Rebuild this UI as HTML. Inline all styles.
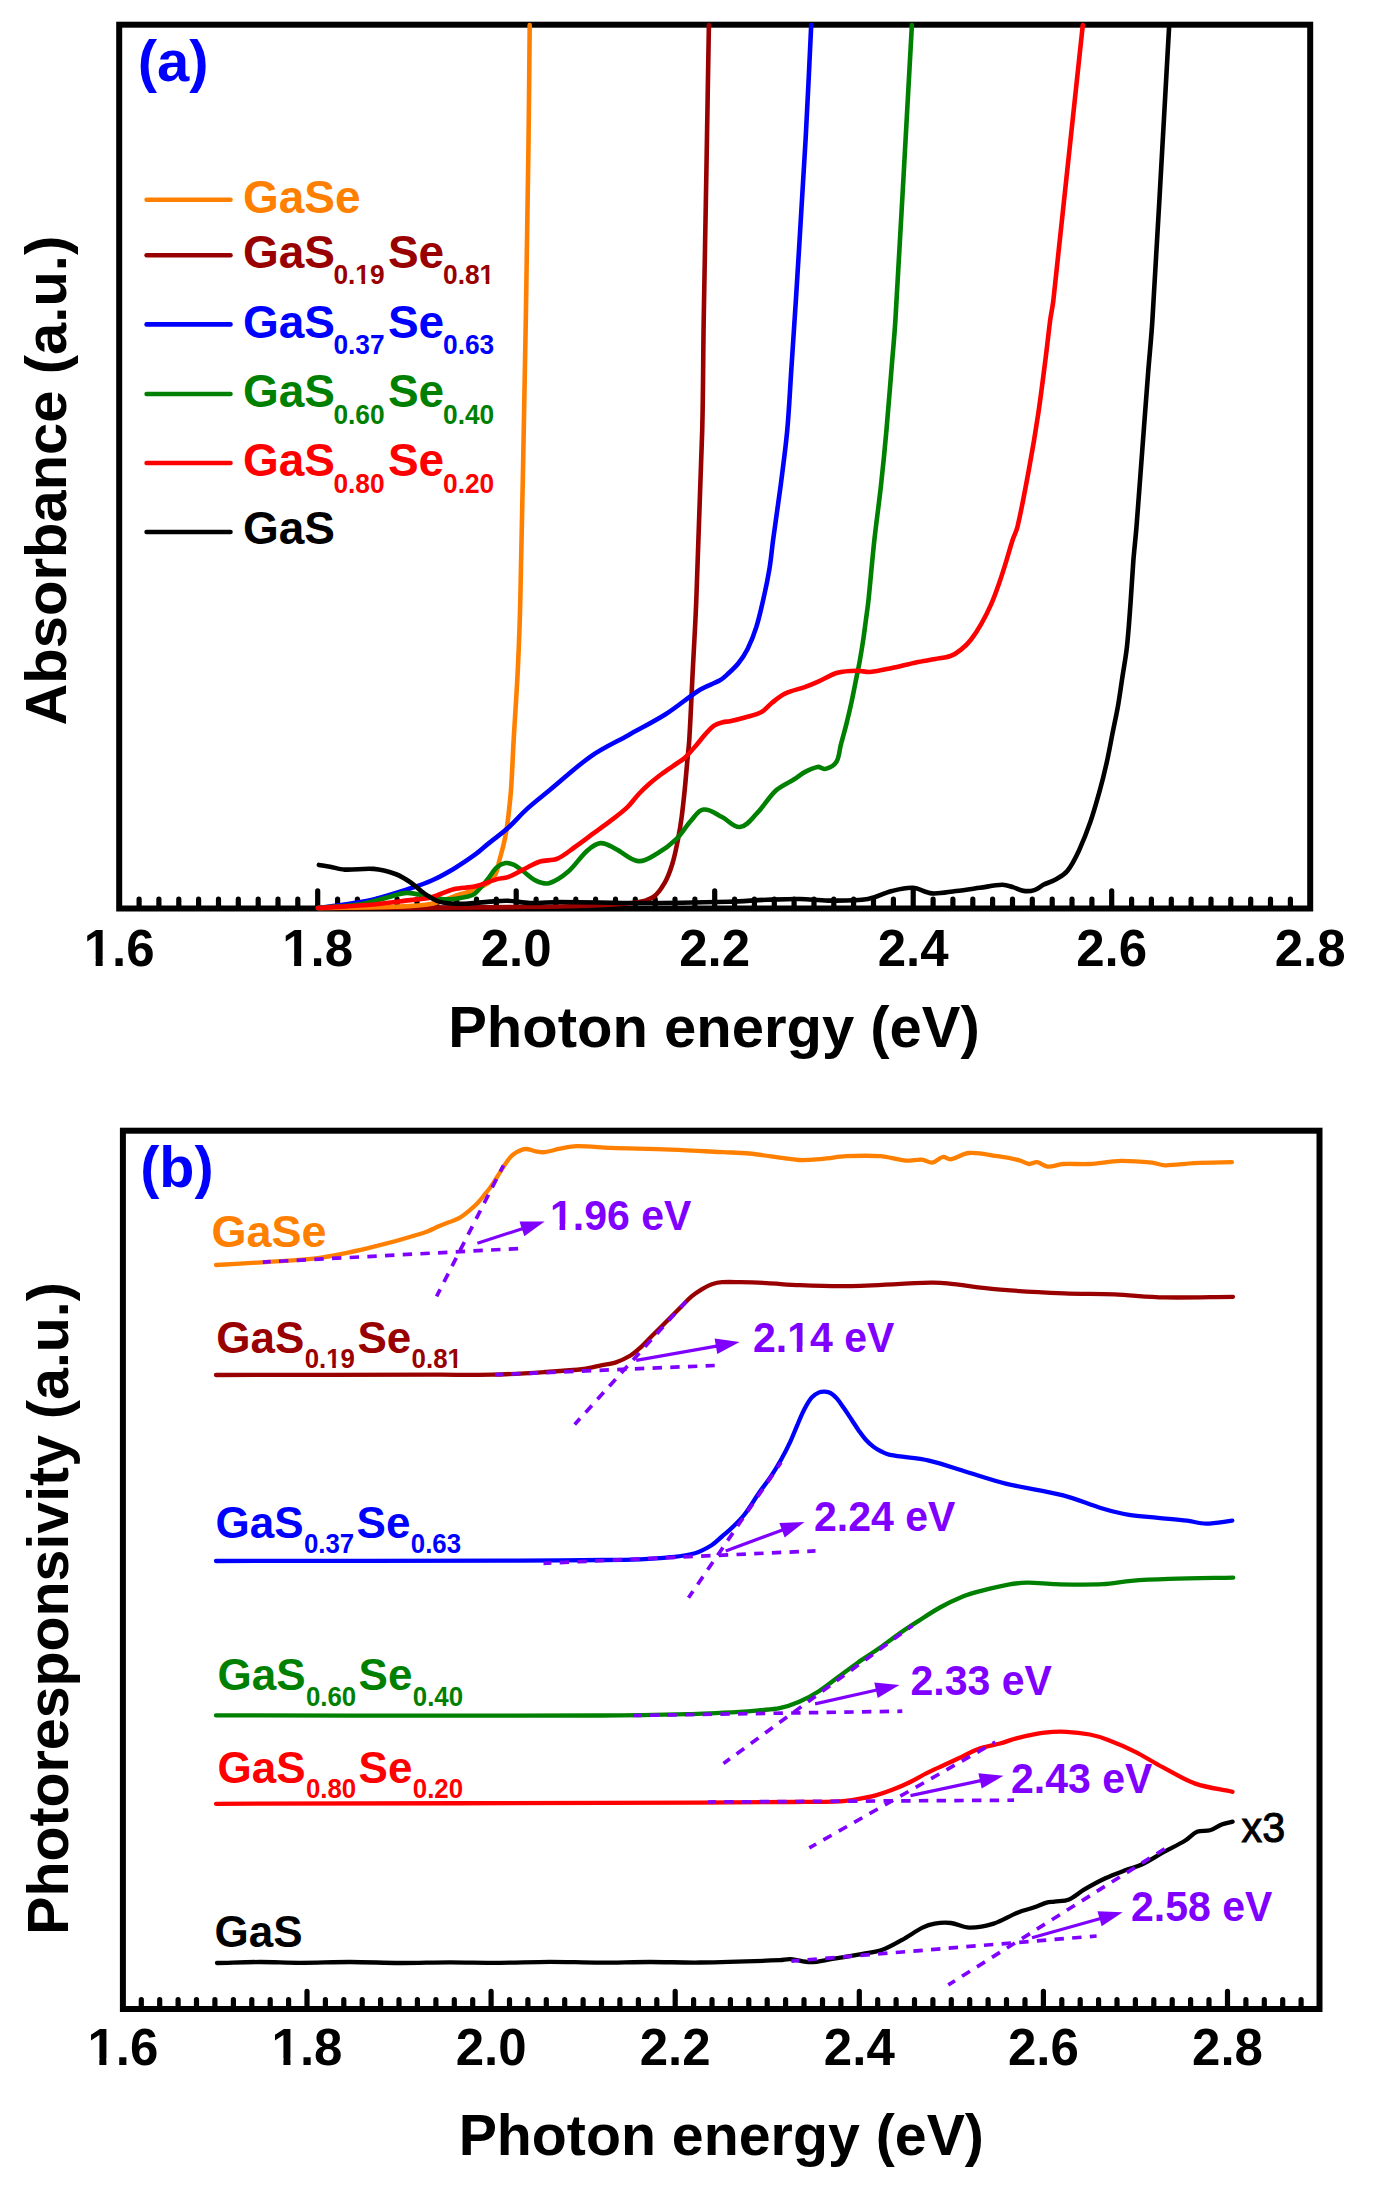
<!DOCTYPE html>
<html><head><meta charset="utf-8"><style>
html,body{margin:0;padding:0;background:#fff;}
svg{display:block;}
text{font-family:"Liberation Sans", sans-serif;font-weight:bold;}
</style></head><body>
<svg width="1376" height="2203" viewBox="0 0 1376 2203">
<rect width="1376" height="2203" fill="#fff"/>
<rect x="119.2" y="24.7" width="1191.0" height="883.8" fill="none" stroke="#000" stroke-width="6"/>
<path d="M139.1 908.5V899.2M158.9 908.5V899.2M178.8 908.5V899.2M198.6 908.5V899.2M218.5 908.5V899.2M238.3 908.5V899.2M258.2 908.5V899.2M278.0 908.5V899.2M297.8 908.5V899.2M317.7 908.5V890.9M337.6 908.5V899.2M357.4 908.5V899.2M377.3 908.5V899.2M397.1 908.5V899.2M417.0 908.5V899.2M436.8 908.5V899.2M456.7 908.5V899.2M476.5 908.5V899.2M496.3 908.5V899.2M516.2 908.5V890.9M536.1 908.5V899.2M555.9 908.5V899.2M575.8 908.5V899.2M595.6 908.5V899.2M615.5 908.5V899.2M635.3 908.5V899.2M655.2 908.5V899.2M675.0 908.5V899.2M694.9 908.5V899.2M714.7 908.5V890.9M734.6 908.5V899.2M754.4 908.5V899.2M774.3 908.5V899.2M794.1 908.5V899.2M814.0 908.5V899.2M833.8 908.5V899.2M853.6 908.5V899.2M873.5 908.5V899.2M893.4 908.5V899.2M913.2 908.5V890.9M933.1 908.5V899.2M952.9 908.5V899.2M972.8 908.5V899.2M992.6 908.5V899.2M1012.5 908.5V899.2M1032.3 908.5V899.2M1052.2 908.5V899.2M1072.0 908.5V899.2M1091.9 908.5V899.2M1111.7 908.5V890.9M1131.6 908.5V899.2M1151.4 908.5V899.2M1171.3 908.5V899.2M1191.1 908.5V899.2M1211.0 908.5V899.2M1230.8 908.5V899.2M1250.7 908.5V899.2M1270.5 908.5V899.2M1290.4 908.5V899.2" stroke="#000" stroke-width="5.2" stroke-linecap="round" fill="none"/>
<path d="M318.0 908.0C398.3 907.5 478.6 907.8 558.9 906.5C584.1 906.1 609.4 905.2 634.5 902.7C641.0 902.0 647.9 900.6 653.4 897.0C658.5 893.7 661.7 888.0 664.7 882.8C668.1 876.9 670.3 870.5 672.3 864.0C674.8 856.0 676.4 847.7 678.0 839.4C679.5 831.9 680.7 824.3 681.7 816.7C682.9 807.8 683.8 798.9 684.7 790.0C685.7 780.0 686.5 770.0 687.4 760.0C688.0 753.2 688.9 746.4 689.3 739.5C690.7 716.3 691.6 693.0 692.8 669.8C694.0 646.5 695.4 623.3 696.3 600.0C698.5 543.6 700.7 487.2 702.2 430.8C703.2 393.9 703.1 356.9 703.7 320.0C704.5 272.3 705.5 224.7 706.3 177.0C707.2 126.3 708.0 75.7 708.9 25.0" fill="none" stroke="#990000" stroke-width="4.6" stroke-linejoin="round" stroke-linecap="round"/>
<path d="M318.0 908.0C343.8 907.6 369.6 907.7 395.4 906.7C407.5 906.3 419.8 906.1 431.7 903.8C441.7 901.8 451.1 897.1 460.8 894.0C463.8 893.0 467.0 892.6 470.0 891.5C474.6 889.8 479.2 888.0 483.6 885.8C486.1 884.5 488.5 883.0 490.5 881.0C492.6 878.9 494.6 876.4 495.8 873.6C497.7 869.3 498.3 864.5 499.5 860.0C500.8 855.0 502.3 850.0 503.5 845.0C504.7 840.0 505.7 835.0 506.5 830.0C507.3 825.0 507.9 820.0 508.5 815.0C509.4 806.7 510.4 798.4 511.0 790.0C512.2 773.2 512.7 756.3 513.7 739.5C515.0 716.3 516.7 693.0 517.8 669.8C518.9 646.5 519.8 623.3 520.3 600.0C522.4 506.7 524.1 413.3 525.8 320.0C526.8 263.6 527.7 207.2 528.4 150.8C529.0 108.9 529.3 66.9 529.7 25.0" fill="none" stroke="#FF8000" stroke-width="4.6" stroke-linejoin="round" stroke-linecap="round"/>
<path d="M318.0 908.0C326.8 906.8 335.7 905.9 344.5 904.5C354.2 903.0 364.0 901.7 373.6 899.4C385.9 896.4 398.0 892.4 410.0 888.5C417.3 886.1 424.7 883.7 431.7 880.5C439.2 877.1 446.4 873.1 453.5 868.9C461.0 864.4 468.2 859.5 475.3 854.4C480.1 850.9 484.4 846.8 489.0 843.1C495.3 838.0 501.9 833.4 507.9 828.0C514.5 822.0 520.2 815.1 526.8 809.1C534.2 802.4 542.1 796.3 549.8 790.0C563.7 778.6 576.8 766.1 591.6 755.8C603.3 747.7 616.4 741.9 628.8 734.9C641.2 727.9 654.0 721.6 666.0 714.0C677.8 706.5 688.2 697.1 700.0 689.7C706.2 685.8 713.6 683.9 720.0 680.3C722.7 678.8 725.0 676.5 727.3 674.4C731.1 670.9 735.0 667.5 738.2 663.5C741.8 659.0 745.0 654.2 747.6 649.0C751.1 642.0 754.0 634.7 756.3 627.2C759.3 617.7 761.4 607.9 763.6 598.1C765.8 588.5 767.8 578.8 769.4 569.1C771.0 559.5 771.8 549.7 773.1 540.0C775.6 521.8 778.3 503.6 780.7 485.3C783.0 467.2 785.5 449.0 787.2 430.8C789.2 409.0 790.1 387.2 791.6 365.4C793.0 343.6 794.5 321.8 795.9 300.0C799.2 245.9 802.7 191.8 805.7 137.7C807.8 100.1 809.4 62.6 811.2 25.0" fill="none" stroke="#0000FF" stroke-width="4.6" stroke-linejoin="round" stroke-linecap="round"/>
<path d="M318.0 908.0C331.7 906.8 345.4 906.2 359.0 904.5C364.6 903.8 370.1 902.2 375.6 900.8C379.8 899.7 383.9 898.3 388.1 897.2C394.4 895.6 400.5 893.1 407.0 892.9C412.9 892.7 418.7 894.8 424.5 895.8C431.8 897.0 438.9 899.3 446.3 899.4C453.6 899.5 460.9 898.0 468.1 896.5C470.5 896.0 473.1 895.2 474.9 893.6C479.8 889.2 483.8 883.9 488.0 878.8C491.0 875.2 493.2 870.7 496.7 867.5C499.1 865.3 502.2 863.6 505.4 863.1C508.3 862.7 511.4 863.7 514.1 864.9C517.3 866.4 519.9 868.9 522.8 871.0C527.2 874.2 531.0 878.3 535.9 880.6C539.9 882.5 544.7 884.4 549.0 883.2C556.2 881.2 562.6 876.4 568.3 871.5C575.4 865.4 580.2 856.9 587.2 850.7C591.0 847.3 595.4 843.4 600.5 843.1C605.9 842.7 610.7 846.5 615.6 848.8C623.4 852.5 629.7 860.1 638.3 861.1C645.0 861.9 651.3 856.9 657.2 853.5C664.0 849.6 670.4 844.9 676.0 839.4C681.8 833.8 685.7 826.5 691.2 820.5C694.9 816.5 698.0 810.1 703.5 809.5C710.1 808.7 716.0 814.1 722.0 817.0C728.2 820.0 733.2 827.8 740.0 827.0C747.4 826.1 752.1 818.2 757.3 812.9C764.2 805.9 768.9 796.8 776.2 790.2C781.4 785.5 788.3 783.1 794.2 779.3C797.8 777.0 800.9 774.1 804.7 772.1C808.8 769.9 813.1 767.6 817.7 766.9C820.4 766.5 823.0 769.6 825.6 768.9C829.7 767.8 834.0 765.7 836.3 762.1C839.4 757.3 839.2 751.0 840.7 745.4C842.6 738.1 844.7 730.9 846.5 723.6C848.3 716.4 850.0 709.1 851.6 701.8C853.4 693.3 855.0 684.8 856.7 676.3C857.7 671.5 858.7 666.7 859.6 661.8C860.9 654.6 862.1 647.3 863.2 640.0C864.2 633.3 865.0 626.7 865.9 620.0C866.8 613.3 867.8 606.7 868.5 600.0C870.6 579.9 872.2 559.8 874.4 539.8C876.4 521.6 879.0 503.5 881.0 485.3C883.0 467.2 884.8 449.0 886.4 430.8C888.4 409.0 890.0 387.2 891.8 365.4C893.0 350.3 894.5 335.2 895.4 320.0C901.2 221.7 906.4 123.3 911.9 25.0" fill="none" stroke="#008000" stroke-width="4.6" stroke-linejoin="round" stroke-linecap="round"/>
<path d="M318.0 908.0C336.5 906.8 355.1 906.1 373.6 904.5C385.8 903.5 397.9 901.6 410.0 900.1C417.2 899.2 424.6 899.0 431.7 897.2C439.2 895.3 446.0 891.1 453.5 889.2C460.6 887.4 468.2 888.0 475.3 886.3C482.8 884.6 489.8 881.2 497.2 879.1C500.7 878.1 504.5 878.5 507.9 877.2C514.5 874.7 520.5 870.8 526.8 867.7C531.2 865.6 535.3 862.9 540.0 861.5C545.6 859.8 552.0 860.9 557.4 858.6C563.9 855.9 569.2 851.0 574.9 847.0C580.8 842.9 586.5 838.5 592.3 834.2C598.1 829.9 604.1 825.8 609.8 821.4C615.7 816.9 621.8 812.5 627.2 807.4C631.5 803.3 634.7 798.3 638.8 794.0C642.3 790.2 646.1 786.7 650.0 783.3C653.7 780.0 657.6 777.0 661.6 774.0C665.4 771.1 669.4 768.5 673.3 765.8C677.2 763.1 681.4 760.9 684.9 757.7C689.2 753.8 692.7 749.2 696.5 744.9C699.5 741.5 702.1 737.8 705.2 734.4C708.0 731.4 710.6 728.1 714.0 725.7C716.6 723.9 719.7 723.0 722.7 722.2C725.1 721.5 727.6 721.7 730.0 721.2C735.3 720.1 740.6 718.7 745.8 717.2C751.1 715.7 756.7 714.7 761.5 712.0C765.6 709.8 768.3 705.7 772.0 702.8C776.2 699.5 780.2 695.9 785.0 693.6C791.2 690.6 798.2 689.4 804.7 687.1C809.1 685.5 813.4 683.8 817.7 681.9C824.3 679.0 830.4 674.7 837.4 672.7C843.7 670.9 850.4 670.8 857.0 670.7C861.4 670.6 865.7 672.3 870.1 672.0C877.5 671.4 884.7 669.5 891.9 668.0C899.9 666.3 907.9 664.1 915.9 662.4C922.3 661.1 928.8 660.2 935.3 659.0C940.4 658.1 945.6 657.7 950.5 656.0C954.2 654.7 957.6 652.4 960.7 649.9C964.5 646.9 967.9 643.5 970.9 639.7C974.7 634.9 978.0 629.7 981.0 624.4C984.8 617.8 988.2 611.0 991.2 604.1C994.3 597.1 996.8 589.9 999.3 582.7C1001.9 575.3 1004.2 567.8 1006.5 560.3C1008.6 553.6 1010.4 546.7 1012.6 540.0C1014.1 535.5 1016.4 531.4 1017.5 526.8C1021.9 508.0 1025.3 489.0 1028.8 470.0C1032.3 451.2 1035.5 432.3 1038.3 413.4C1041.1 394.5 1043.4 375.6 1045.8 356.7C1047.4 344.5 1048.6 332.2 1050.2 320.0C1051.1 313.3 1052.7 306.7 1053.4 300.0C1063.5 208.4 1073.0 116.7 1082.8 25.0" fill="none" stroke="#FF0000" stroke-width="4.6" stroke-linejoin="round" stroke-linecap="round"/>
<path d="M318.9 864.9C322.6 865.5 326.3 866.0 330.0 866.7C334.8 867.6 339.6 869.4 344.5 869.6C354.2 870.1 363.9 868.1 373.6 868.9C381.0 869.5 388.4 871.5 395.4 874.0C400.6 875.9 405.4 878.9 410.0 882.0C415.1 885.5 419.4 890.1 424.5 893.6C429.1 896.7 433.7 900.1 439.0 901.6C446.0 903.6 453.5 903.8 460.8 903.8C470.5 903.8 480.2 902.2 489.9 901.6C495.9 901.2 501.9 900.6 507.9 900.8C515.3 901.1 522.6 902.8 530.0 903.0C540.0 903.2 550.0 902.0 560.0 902.0C586.7 902.0 613.3 903.0 640.0 903.0C669.7 902.9 699.3 902.4 729.0 901.7C741.6 901.4 754.2 900.3 766.8 899.8C777.9 899.4 788.9 898.9 800.0 899.0C809.3 899.1 818.7 900.6 828.0 900.6C841.3 900.6 854.8 901.0 868.0 899.0C876.3 897.7 883.8 893.0 892.0 891.0C898.8 889.3 905.7 887.4 912.7 887.8C919.4 888.2 925.3 892.9 931.9 893.4C939.9 894.0 947.9 891.9 955.9 891.0C963.9 890.1 971.8 888.9 979.8 887.8C987.3 886.8 994.7 885.0 1002.2 884.8C1005.8 884.7 1009.4 886.1 1012.9 887.1C1016.5 888.1 1019.9 890.4 1023.6 890.9C1027.1 891.4 1030.9 891.2 1034.3 890.1C1037.7 889.1 1040.3 886.4 1043.4 884.8C1047.4 882.8 1051.8 881.7 1055.6 879.5C1059.8 877.1 1064.3 874.7 1067.3 871.0C1072.2 864.9 1075.6 857.8 1078.9 850.7C1083.3 841.2 1087.1 831.5 1090.5 821.6C1093.8 812.1 1096.5 802.3 1099.2 792.6C1101.9 783.0 1104.3 773.3 1106.5 763.5C1108.7 753.9 1110.4 744.1 1112.3 734.4C1114.2 724.7 1116.4 715.0 1118.1 705.3C1119.8 695.7 1121.0 686.0 1122.5 676.3C1124.0 666.6 1125.8 657.0 1126.9 647.2C1128.5 632.7 1129.4 618.1 1130.5 603.6C1131.6 589.1 1132.3 574.5 1133.4 560.0C1134.3 548.9 1135.6 537.9 1136.5 526.8C1138.5 501.6 1140.3 476.4 1142.2 451.2C1144.1 426.0 1145.9 400.8 1147.9 375.6C1149.3 357.1 1151.3 338.6 1152.4 320.0C1158.4 221.7 1163.6 123.3 1169.2 25.0" fill="none" stroke="#000000" stroke-width="4.6" stroke-linejoin="round" stroke-linecap="round"/>
<text x="119.2" y="966" font-size="51" fill="#000" text-anchor="middle" >1.6</text>
<text x="317.7" y="966" font-size="51" fill="#000" text-anchor="middle" >1.8</text>
<text x="516.2" y="966" font-size="51" fill="#000" text-anchor="middle" >2.0</text>
<text x="714.7" y="966" font-size="51" fill="#000" text-anchor="middle" >2.2</text>
<text x="913.2" y="966" font-size="51" fill="#000" text-anchor="middle" >2.4</text>
<text x="1111.7" y="966" font-size="51" fill="#000" text-anchor="middle" >2.6</text>
<text x="1310.2" y="966" font-size="51" fill="#000" text-anchor="middle" >2.8</text>
<text x="714" y="1046.5" font-size="58" fill="#000" text-anchor="middle" >Photon energy (eV)</text>
<text transform="translate(66.3 725.6) rotate(-90)" font-size="58">Absorbance (a.u.)</text>
<text x="137.8" y="81.3" font-size="58" fill="#0000FF" text-anchor="start" >(a)</text>
<path d="M146.6 199.7H230.5" stroke="#FF8000" stroke-width="4.6" stroke-linecap="round"/>
<text x="243" y="212.5" font-size="46" fill="#FF8000" text-anchor="start" >GaSe</text>
<path d="M146.6 255.3H230.5" stroke="#990000" stroke-width="4.6" stroke-linecap="round"/>
<text x="242.9" y="267.7" font-size="46" fill="#990000">GaS</text>
<text transform="translate(333.4 284.2) scale(0.94 1)" font-size="28" fill="#990000">0.19</text>
<text x="387.9" y="267.7" font-size="46" fill="#990000">Se</text>
<text transform="translate(443.0 284.2) scale(0.94 1)" font-size="28" fill="#990000">0.81</text>
<path d="M146.6 324.4H230.5" stroke="#0000FF" stroke-width="4.6" stroke-linecap="round"/>
<text x="242.9" y="337.5" font-size="46" fill="#0000FF">GaS</text>
<text transform="translate(333.4 354.0) scale(0.94 1)" font-size="28" fill="#0000FF">0.37</text>
<text x="387.9" y="337.5" font-size="46" fill="#0000FF">Se</text>
<text transform="translate(443.0 354.0) scale(0.94 1)" font-size="28" fill="#0000FF">0.63</text>
<path d="M146.6 394H230.5" stroke="#008000" stroke-width="4.6" stroke-linecap="round"/>
<text x="242.9" y="407" font-size="46" fill="#008000">GaS</text>
<text transform="translate(333.4 423.5) scale(0.94 1)" font-size="28" fill="#008000">0.60</text>
<text x="387.9" y="407" font-size="46" fill="#008000">Se</text>
<text transform="translate(443.0 423.5) scale(0.94 1)" font-size="28" fill="#008000">0.40</text>
<path d="M146.6 463H230.5" stroke="#FF0000" stroke-width="4.6" stroke-linecap="round"/>
<text x="242.9" y="476.3" font-size="46" fill="#FF0000">GaS</text>
<text transform="translate(333.4 492.8) scale(0.94 1)" font-size="28" fill="#FF0000">0.80</text>
<text x="387.9" y="476.3" font-size="46" fill="#FF0000">Se</text>
<text transform="translate(443.0 492.8) scale(0.94 1)" font-size="28" fill="#FF0000">0.20</text>
<path d="M146.6 532H230.5" stroke="#000000" stroke-width="4.6" stroke-linecap="round"/>
<text x="243" y="544.4" font-size="46" fill="#000000" text-anchor="start" >GaS</text>
<rect x="122.9" y="1130.7" width="1196.6" height="878.3" fill="none" stroke="#000" stroke-width="6"/>
<path d="M141.3 2009.0V1999.7M159.7 2009.0V1999.7M178.1 2009.0V1999.7M196.5 2009.0V1999.7M214.9 2009.0V1999.7M233.4 2009.0V1999.7M251.8 2009.0V1999.7M270.2 2009.0V1999.7M288.6 2009.0V1999.7M307.0 2009.0V1991.4M325.4 2009.0V1999.7M343.8 2009.0V1999.7M362.2 2009.0V1999.7M380.6 2009.0V1999.7M399.0 2009.0V1999.7M417.4 2009.0V1999.7M435.9 2009.0V1999.7M454.3 2009.0V1999.7M472.7 2009.0V1999.7M491.1 2009.0V1991.4M509.5 2009.0V1999.7M527.9 2009.0V1999.7M546.3 2009.0V1999.7M564.7 2009.0V1999.7M583.1 2009.0V1999.7M601.5 2009.0V1999.7M619.9 2009.0V1999.7M638.4 2009.0V1999.7M656.8 2009.0V1999.7M675.2 2009.0V1991.4M693.6 2009.0V1999.7M712.0 2009.0V1999.7M730.4 2009.0V1999.7M748.8 2009.0V1999.7M767.2 2009.0V1999.7M785.6 2009.0V1999.7M804.0 2009.0V1999.7M822.5 2009.0V1999.7M840.9 2009.0V1999.7M859.3 2009.0V1991.4M877.7 2009.0V1999.7M896.1 2009.0V1999.7M914.5 2009.0V1999.7M932.9 2009.0V1999.7M951.3 2009.0V1999.7M969.7 2009.0V1999.7M988.1 2009.0V1999.7M1006.5 2009.0V1999.7M1025.0 2009.0V1999.7M1043.4 2009.0V1991.4M1061.8 2009.0V1999.7M1080.2 2009.0V1999.7M1098.6 2009.0V1999.7M1117.0 2009.0V1999.7M1135.4 2009.0V1999.7M1153.8 2009.0V1999.7M1172.2 2009.0V1999.7M1190.6 2009.0V1999.7M1209.0 2009.0V1999.7M1227.5 2009.0V1991.4M1245.9 2009.0V1999.7M1264.3 2009.0V1999.7M1282.7 2009.0V1999.7M1301.1 2009.0V1999.7" stroke="#000" stroke-width="5.2" stroke-linecap="round" fill="none"/>
<path d="M216.0 1265.0C232.5 1264.0 248.9 1263.2 265.4 1262.1C282.8 1260.9 300.4 1260.6 317.7 1258.2C335.3 1255.8 352.8 1251.8 370.1 1247.7C387.7 1243.5 405.1 1238.7 422.4 1233.3C428.5 1231.4 434.1 1228.3 440.0 1225.8C446.6 1223.0 453.6 1220.9 460.0 1217.6C463.2 1215.9 465.9 1213.4 468.7 1211.1C471.7 1208.6 474.7 1206.0 477.4 1203.2C479.8 1200.8 481.9 1198.0 484.0 1195.4C486.2 1192.7 488.5 1190.0 490.5 1187.1C492.8 1183.8 494.9 1180.4 497.1 1177.0C499.3 1173.6 501.3 1170.0 503.6 1166.6C505.7 1163.5 507.7 1160.2 510.2 1157.4C512.1 1155.3 514.3 1153.5 516.7 1152.2C519.4 1150.7 522.3 1149.1 525.4 1149.0C529.0 1148.8 532.4 1150.7 535.9 1151.3C538.8 1151.8 541.7 1152.5 544.6 1152.2C549.8 1151.6 554.8 1149.7 560.0 1148.7C565.5 1147.7 571.0 1146.3 576.6 1146.2C587.9 1146.0 599.3 1147.4 610.6 1147.8C630.7 1148.5 650.7 1148.8 670.8 1149.6C688.3 1150.3 705.7 1151.3 723.2 1152.2C731.9 1152.6 740.6 1152.6 749.3 1153.5C765.9 1155.2 782.3 1158.8 799.0 1160.0C806.9 1160.6 814.7 1159.4 822.6 1158.8C830.5 1158.2 838.2 1156.6 846.1 1156.2C857.4 1155.7 868.8 1155.4 880.1 1156.2C888.9 1156.8 897.4 1159.9 906.2 1160.6C911.4 1161.0 916.7 1159.2 921.9 1159.6C925.5 1159.9 928.7 1163.1 932.3 1162.7C936.3 1162.2 938.9 1157.7 942.8 1157.0C945.5 1156.5 947.9 1159.7 950.6 1159.3C957.0 1158.3 962.5 1153.4 969.0 1153.0C978.6 1152.4 988.2 1154.8 997.7 1156.2C1004.7 1157.2 1011.8 1158.4 1018.7 1160.1C1022.3 1161.0 1025.4 1163.6 1029.1 1164.0C1031.8 1164.3 1034.3 1161.8 1037.0 1162.2C1040.8 1162.7 1043.7 1166.3 1047.5 1166.6C1052.8 1167.0 1057.9 1164.3 1063.2 1164.0C1071.9 1163.5 1080.6 1164.5 1089.3 1164.0C1099.8 1163.4 1110.2 1161.1 1120.7 1160.9C1131.2 1160.7 1141.7 1161.7 1152.1 1162.7C1156.5 1163.1 1160.7 1165.2 1165.2 1165.3C1174.8 1165.4 1184.4 1163.6 1194.0 1163.2C1206.6 1162.6 1219.3 1162.5 1231.9 1162.2" fill="none" stroke="#FF8000" stroke-width="4.3" stroke-linejoin="round" stroke-linecap="round"/>
<path d="M216.0 1375.0C290.7 1374.9 365.3 1374.8 440.0 1374.7C457.4 1374.7 474.9 1375.1 492.3 1374.7C509.8 1374.2 527.2 1373.1 544.7 1372.0C557.8 1371.2 570.9 1370.5 583.9 1369.0C589.3 1368.4 594.6 1366.7 600.0 1365.6C605.1 1364.6 610.4 1364.2 615.3 1362.6C620.6 1360.8 625.7 1358.4 630.5 1355.5C634.2 1353.2 637.5 1350.2 640.7 1347.3C644.3 1344.1 647.5 1340.5 650.9 1337.1C654.3 1333.7 657.6 1330.4 661.0 1327.0C664.4 1323.6 667.8 1320.2 671.2 1316.8C674.6 1313.4 678.0 1310.0 681.4 1306.6C684.8 1303.2 687.9 1299.5 691.6 1296.4C694.7 1293.7 698.2 1291.4 701.7 1289.3C705.0 1287.3 708.3 1285.4 711.9 1284.2C715.2 1283.1 718.6 1282.4 722.1 1282.2C728.1 1281.8 734.0 1282.1 740.0 1282.2C749.0 1282.4 758.0 1282.7 767.0 1283.1C778.0 1283.7 789.0 1284.8 800.0 1285.2C815.6 1285.8 831.3 1286.4 846.9 1286.1C874.8 1285.6 902.6 1283.5 930.5 1282.7C936.1 1282.6 941.7 1282.8 947.2 1283.4C963.9 1285.1 980.5 1288.0 997.3 1289.4C1019.6 1291.3 1041.9 1292.4 1064.2 1293.4C1080.9 1294.1 1097.6 1293.7 1114.3 1294.4C1131.0 1295.1 1147.7 1297.1 1164.5 1297.4C1187.3 1297.9 1210.2 1297.0 1233.0 1296.8" fill="none" stroke="#990000" stroke-width="4.3" stroke-linejoin="round" stroke-linecap="round"/>
<path d="M216.0 1561.0C317.3 1560.9 418.7 1560.9 520.0 1560.6C547.6 1560.5 575.3 1560.3 602.9 1560.0C615.3 1559.9 627.6 1559.8 640.0 1559.3C650.2 1558.9 660.4 1558.3 670.5 1557.2C678.7 1556.3 687.0 1555.5 695.0 1553.2C700.7 1551.5 706.1 1548.6 711.2 1545.5C715.2 1543.0 718.4 1539.5 722.0 1536.5C725.4 1533.6 729.0 1530.8 732.2 1527.6C736.5 1523.4 740.8 1519.2 744.5 1514.5C749.8 1507.6 754.1 1499.9 759.1 1492.7C762.9 1487.3 767.0 1482.2 770.7 1476.7C774.3 1471.3 777.7 1465.7 780.9 1460.0C784.2 1454.1 787.3 1448.0 790.2 1441.8C792.8 1436.3 794.9 1430.6 797.3 1425.1C799.6 1419.7 801.8 1414.3 804.5 1409.1C806.6 1405.0 808.8 1400.9 811.8 1397.4C813.7 1395.2 816.4 1393.6 819.1 1392.4C820.9 1391.6 823.0 1391.5 824.9 1391.6C826.9 1391.7 829.0 1392.1 830.7 1393.1C833.2 1394.6 835.3 1396.7 837.2 1398.9C839.9 1402.1 842.1 1405.7 844.5 1409.1C847.0 1412.7 849.4 1416.4 851.8 1420.0C854.2 1423.6 856.5 1427.4 859.0 1430.9C861.3 1434.1 863.6 1437.4 866.3 1440.3C868.5 1442.7 871.0 1444.9 873.6 1446.9C875.8 1448.6 878.3 1450.0 880.8 1451.2C883.8 1452.6 886.8 1454.3 890.0 1454.9C902.9 1457.4 916.2 1457.7 929.0 1460.6C941.8 1463.5 954.2 1468.2 966.8 1472.0C979.7 1475.9 992.5 1480.4 1005.6 1483.6C1024.6 1488.2 1044.2 1490.5 1063.2 1495.4C1076.5 1498.8 1089.2 1504.6 1102.4 1508.5C1111.1 1511.1 1120.0 1513.4 1129.0 1514.9C1138.6 1516.5 1148.4 1516.8 1158.1 1517.8C1167.8 1518.8 1177.5 1519.5 1187.2 1520.7C1193.5 1521.5 1199.7 1523.6 1206.1 1523.6C1214.9 1523.6 1223.6 1521.7 1232.3 1520.7" fill="none" stroke="#0000FF" stroke-width="4.3" stroke-linejoin="round" stroke-linecap="round"/>
<path d="M216.0 1715.4C344.0 1715.4 472.0 1715.9 600.0 1715.5C629.1 1715.4 658.1 1714.9 687.2 1714.1C704.8 1713.6 722.4 1712.7 740.0 1711.8C746.7 1711.4 753.3 1710.8 760.0 1710.2C766.5 1709.6 773.2 1709.6 779.6 1708.2C786.3 1706.7 792.9 1704.4 799.2 1701.7C806.0 1698.7 812.6 1695.2 818.9 1691.2C825.7 1686.9 832.0 1681.6 838.5 1676.8C845.0 1672.0 851.5 1667.1 858.1 1662.4C864.5 1657.9 871.3 1653.8 877.7 1649.3C884.4 1644.6 890.7 1639.6 897.4 1634.9C903.8 1630.4 910.4 1626.1 917.0 1621.9C924.6 1617.0 932.1 1611.9 940.0 1607.5C947.6 1603.3 955.4 1599.6 963.4 1596.3C968.8 1594.1 974.4 1592.7 980.0 1591.2C989.4 1588.8 998.8 1586.3 1008.3 1584.6C1014.5 1583.5 1020.9 1582.8 1027.2 1582.7C1036.7 1582.6 1046.1 1584.0 1055.6 1584.2C1071.3 1584.5 1087.1 1584.9 1102.8 1584.2C1112.3 1583.8 1121.7 1581.6 1131.2 1580.8C1143.8 1579.8 1156.4 1579.3 1169.0 1578.9C1190.4 1578.2 1211.8 1578.0 1233.2 1577.6" fill="none" stroke="#008000" stroke-width="4.3" stroke-linejoin="round" stroke-linecap="round"/>
<path d="M216.0 1803.8C377.3 1803.4 538.7 1803.1 700.0 1802.6C731.0 1802.5 762.0 1802.3 793.0 1802.0C808.7 1801.9 824.3 1802.1 840.0 1801.4C845.8 1801.1 851.6 1800.1 857.4 1799.1C863.3 1798.1 869.2 1797.1 874.9 1795.6C880.8 1794.0 886.6 1792.0 892.3 1789.8C898.2 1787.5 904.1 1785.0 909.8 1782.2C915.7 1779.3 921.3 1775.8 927.2 1772.9C933.0 1770.0 938.9 1767.5 944.7 1764.8C950.5 1762.1 956.3 1759.3 962.1 1756.6C967.9 1753.9 973.5 1750.6 979.5 1748.5C986.1 1746.2 993.2 1745.3 1000.0 1743.5C1005.8 1741.9 1011.4 1739.6 1017.3 1738.2C1026.3 1736.0 1035.3 1733.9 1044.5 1732.7C1051.7 1731.8 1059.0 1731.5 1066.3 1731.8C1074.2 1732.1 1082.1 1733.0 1089.9 1734.5C1096.1 1735.7 1102.2 1737.7 1108.1 1740.0C1117.3 1743.5 1126.5 1747.4 1135.3 1751.8C1144.6 1756.5 1153.4 1762.3 1162.6 1767.2C1173.4 1772.9 1183.8 1779.6 1195.3 1783.6C1207.3 1787.8 1220.1 1789.1 1232.5 1791.8" fill="none" stroke="#FF0000" stroke-width="4.3" stroke-linejoin="round" stroke-linecap="round"/>
<path d="M217.0 1963.0C231.3 1962.7 245.7 1962.0 260.0 1962.0C273.3 1962.0 286.7 1962.8 300.0 1962.8C316.7 1962.8 333.3 1962.0 350.0 1962.0C366.7 1962.0 383.3 1962.9 400.0 1963.0C416.7 1963.1 433.3 1962.3 450.0 1962.3C466.7 1962.3 483.3 1962.9 500.0 1962.8C516.7 1962.7 533.3 1961.8 550.0 1961.8C566.7 1961.8 583.3 1962.6 600.0 1962.6C616.7 1962.6 633.3 1962.0 650.0 1962.0C666.7 1962.0 683.3 1962.7 700.0 1962.5C726.7 1962.1 753.3 1961.2 780.0 1960.2C783.4 1960.1 786.8 1959.0 790.2 1959.2C797.0 1959.6 803.7 1962.2 810.5 1962.2C817.4 1962.2 824.1 1960.3 830.9 1959.2C841.1 1957.6 851.3 1955.9 861.4 1954.1C868.2 1952.9 875.3 1952.3 881.8 1950.0C888.9 1947.5 895.5 1943.5 902.1 1939.9C909.1 1936.1 915.4 1931.2 922.5 1927.6C926.3 1925.7 930.5 1924.3 934.7 1923.6C940.0 1922.7 945.5 1922.4 950.9 1923.0C957.2 1923.7 963.0 1927.5 969.3 1927.6C977.5 1927.7 985.8 1926.1 993.7 1923.6C1002.2 1920.9 1009.8 1915.7 1018.1 1912.4C1023.4 1910.3 1029.0 1909.2 1034.4 1907.3C1038.5 1905.9 1042.4 1903.8 1046.6 1902.6C1049.2 1901.9 1051.9 1902.0 1054.5 1901.6C1059.4 1900.9 1064.5 1901.2 1069.1 1899.4C1074.5 1897.2 1078.6 1892.8 1083.6 1889.9C1090.7 1885.8 1097.9 1881.8 1105.4 1878.3C1112.5 1875.0 1119.9 1872.4 1127.2 1869.6C1132.0 1867.8 1137.1 1866.7 1141.7 1864.5C1149.2 1860.9 1156.2 1856.2 1163.5 1852.2C1170.7 1848.2 1178.3 1844.8 1185.3 1840.5C1189.5 1838.0 1192.5 1833.6 1197.0 1831.8C1201.1 1830.1 1205.9 1831.5 1210.1 1830.3C1214.2 1829.1 1217.7 1826.1 1221.7 1824.5C1225.2 1823.1 1229.0 1822.6 1232.6 1821.6" fill="none" stroke="#000000" stroke-width="4.3" stroke-linejoin="round" stroke-linecap="round"/>
<path d="M262.8 1262.1L519.2 1248.5" stroke="#8000FF" stroke-width="3.7" stroke-dasharray="9.4 8.3" stroke-dashoffset="1.5" fill="none"/>
<path d="M436.6 1296.4L503.5 1165.3" stroke="#8000FF" stroke-width="3.7" stroke-dasharray="9.4 8.3" stroke-dashoffset="1.5" fill="none"/>
<path d="M477.4 1243.2L523.8 1228.2" stroke="#8000FF" stroke-width="3.2" fill="none"/>
<path d="M544.7 1221.4L524.3 1236.2L519.5 1221.4Z" fill="#8000FF"/>
<path d="M494.9 1374.7L714.7 1365.5" stroke="#8000FF" stroke-width="3.7" stroke-dasharray="9.4 8.3" stroke-dashoffset="1.5" fill="none"/>
<path d="M574.7 1424.4L686 1301.4" stroke="#8000FF" stroke-width="3.7" stroke-dasharray="9.4 8.3" stroke-dashoffset="1.5" fill="none"/>
<path d="M636.2 1360.3L717.9 1345.8" stroke="#8000FF" stroke-width="3.2" fill="none"/>
<path d="M739.6 1342L717.3 1353.9L714.6 1338.5Z" fill="#8000FF"/>
<path d="M543.5 1563.3L815.5 1550.9" stroke="#8000FF" stroke-width="3.7" stroke-dasharray="9.4 8.3" stroke-dashoffset="1.5" fill="none"/>
<path d="M688.5 1597.8L781 1462.5" stroke="#8000FF" stroke-width="3.7" stroke-dasharray="9.4 8.3" stroke-dashoffset="1.5" fill="none"/>
<path d="M725.7 1550.9L783.9 1529.5" stroke="#8000FF" stroke-width="3.2" fill="none"/>
<path d="M804.5 1521.9L784.7 1537.5L779.3 1522.9Z" fill="#8000FF"/>
<path d="M633.4 1715.5L902.3 1711.2" stroke="#8000FF" stroke-width="3.7" stroke-dasharray="9.4 8.3" stroke-dashoffset="1.5" fill="none"/>
<path d="M723.5 1763.5L912.5 1625.4" stroke="#8000FF" stroke-width="3.7" stroke-dasharray="9.4 8.3" stroke-dashoffset="1.5" fill="none"/>
<path d="M815.1 1703.9L877.9 1689.8" stroke="#8000FF" stroke-width="3.2" fill="none"/>
<path d="M899.4 1685L877.7 1697.9L874.3 1682.6Z" fill="#8000FF"/>
<path d="M708 1802L1014 1800.2" stroke="#8000FF" stroke-width="3.7" stroke-dasharray="9.4 8.3" stroke-dashoffset="1.5" fill="none"/>
<path d="M809.3 1847.9L995.3 1742.1" stroke="#8000FF" stroke-width="3.7" stroke-dasharray="9.4 8.3" stroke-dashoffset="1.5" fill="none"/>
<path d="M910.5 1795.6L982.0 1780.4" stroke="#8000FF" stroke-width="3.2" fill="none"/>
<path d="M1003.5 1775.8L981.7 1788.4L978.4 1773.2Z" fill="#8000FF"/>
<path d="M791.4 1961.1L1096.6 1936" stroke="#8000FF" stroke-width="3.7" stroke-dasharray="9.4 8.3" stroke-dashoffset="1.5" fill="none"/>
<path d="M948.3 1984.9L1164.6 1848.8" stroke="#8000FF" stroke-width="3.7" stroke-dasharray="9.4 8.3" stroke-dashoffset="1.5" fill="none"/>
<path d="M1032 1937.8L1101.5 1918.3" stroke="#8000FF" stroke-width="3.2" fill="none"/>
<path d="M1122.7 1912.3L1101.7 1926.3L1097.5 1911.3Z" fill="#8000FF"/>
<text x="122.9" y="2065" font-size="51" fill="#000" text-anchor="middle" >1.6</text>
<text x="307.0" y="2065" font-size="51" fill="#000" text-anchor="middle" >1.8</text>
<text x="491.1" y="2065" font-size="51" fill="#000" text-anchor="middle" >2.0</text>
<text x="675.2" y="2065" font-size="51" fill="#000" text-anchor="middle" >2.2</text>
<text x="859.3" y="2065" font-size="51" fill="#000" text-anchor="middle" >2.4</text>
<text x="1043.4" y="2065" font-size="51" fill="#000" text-anchor="middle" >2.6</text>
<text x="1227.5" y="2065" font-size="51" fill="#000" text-anchor="middle" >2.8</text>
<text x="721.3" y="2154.5" font-size="57.3" fill="#000" text-anchor="middle" >Photon energy (eV)</text>
<text transform="translate(68.3 1934.8) rotate(-90)" font-size="57.3">Photoresponsivity (a.u.)</text>
<text x="140.2" y="1186.6" font-size="57.5" fill="#0000FF" text-anchor="start" >(b)</text>
<text x="211.5" y="1246.5" font-size="45" fill="#FF8000" text-anchor="start" >GaSe</text>
<text x="216.3" y="1352.6" font-size="44" fill="#990000">GaS</text>
<text transform="translate(304.7 1368.1) scale(0.94 1)" font-size="27.5" fill="#990000">0.19</text>
<text x="357.4" y="1352.6" font-size="44" fill="#990000">Se</text>
<text transform="translate(411.6 1368.1) scale(0.94 1)" font-size="27.5" fill="#990000">0.81</text>
<text x="215.5" y="1537.6" font-size="44" fill="#0000FF">GaS</text>
<text transform="translate(303.9 1553.1) scale(0.94 1)" font-size="27.5" fill="#0000FF">0.37</text>
<text x="356.6" y="1537.6" font-size="44" fill="#0000FF">Se</text>
<text transform="translate(410.8 1553.1) scale(0.94 1)" font-size="27.5" fill="#0000FF">0.63</text>
<text x="217.5" y="1690.3" font-size="44" fill="#008000">GaS</text>
<text transform="translate(305.9 1705.8) scale(0.94 1)" font-size="27.5" fill="#008000">0.60</text>
<text x="358.6" y="1690.3" font-size="44" fill="#008000">Se</text>
<text transform="translate(412.8 1705.8) scale(0.94 1)" font-size="27.5" fill="#008000">0.40</text>
<text x="217.5" y="1782.9" font-size="44" fill="#FF0000">GaS</text>
<text transform="translate(305.9 1798.4) scale(0.94 1)" font-size="27.5" fill="#FF0000">0.80</text>
<text x="358.6" y="1782.9" font-size="44" fill="#FF0000">Se</text>
<text transform="translate(412.8 1798.4) scale(0.94 1)" font-size="27.5" fill="#FF0000">0.20</text>
<text x="214.5" y="1946.9" font-size="44" fill="#000000" text-anchor="start" >GaS</text>
<text transform="translate(1241.5 1842.3) scale(0.96 1)" font-size="43" fill="#000" stroke="#000" stroke-width="1" style="font-weight:normal">x3</text>
<text transform="translate(550 1229.5) scale(0.965 1)" font-size="42.5" fill="#8000FF">1.96 eV</text>
<text transform="translate(753 1352) scale(0.965 1)" font-size="42.5" fill="#8000FF">2.14 eV</text>
<text transform="translate(814 1530.5) scale(0.965 1)" font-size="42.5" fill="#8000FF">2.24 eV</text>
<text transform="translate(910.5 1695) scale(0.965 1)" font-size="42.5" fill="#8000FF">2.33 eV</text>
<text transform="translate(1011 1792.6) scale(0.965 1)" font-size="42.5" fill="#8000FF">2.43 eV</text>
<text transform="translate(1131 1921.2) scale(0.965 1)" font-size="42.5" fill="#8000FF">2.58 eV</text>
<g fill="#fff"><rect x="86.16" y="959.50" width="9.49" height="7.50"/><rect x="102.65" y="959.50" width="8.84" height="7.50"/></g>
<g fill="#fff"><rect x="284.66" y="959.50" width="9.49" height="7.50"/><rect x="301.15" y="959.50" width="8.84" height="7.50"/></g>
<g transform="translate(333.4 284.2) scale(0.94 1)" fill="#fff"><rect x="24.29" y="-4.16" width="5.57" height="5.16"/><rect x="33.71" y="-4.16" width="5.22" height="5.16"/></g>
<g transform="translate(443.0 284.2) scale(0.94 1)" fill="#fff"><rect x="39.86" y="-4.16" width="5.57" height="5.16"/><rect x="49.28" y="-4.16" width="5.22" height="5.16"/></g>
<g fill="#fff"><rect x="89.86" y="2058.50" width="9.49" height="7.50"/><rect x="106.35" y="2058.50" width="8.84" height="7.50"/></g>
<g fill="#fff"><rect x="273.96" y="2058.50" width="9.49" height="7.50"/><rect x="290.45" y="2058.50" width="8.84" height="7.50"/></g>
<g transform="translate(304.7 1368.1) scale(0.94 1)" fill="#fff"><rect x="23.84" y="-4.11" width="5.49" height="5.11"/><rect x="33.10" y="-4.11" width="5.14" height="5.11"/></g>
<g transform="translate(411.6 1368.1) scale(0.94 1)" fill="#fff"><rect x="39.12" y="-4.11" width="5.49" height="5.11"/><rect x="48.38" y="-4.11" width="5.14" height="5.11"/></g>
<g transform="translate(550 1229.5) scale(0.965 1)" fill="#fff"><rect x="1.88" y="-5.64" width="8.04" height="6.64"/><rect x="15.75" y="-5.64" width="7.50" height="6.64"/></g>
<g transform="translate(753 1352) scale(0.965 1)" fill="#fff"><rect x="37.30" y="-5.64" width="8.04" height="6.64"/><rect x="51.18" y="-5.64" width="7.50" height="6.64"/></g>
</svg></body></html>
